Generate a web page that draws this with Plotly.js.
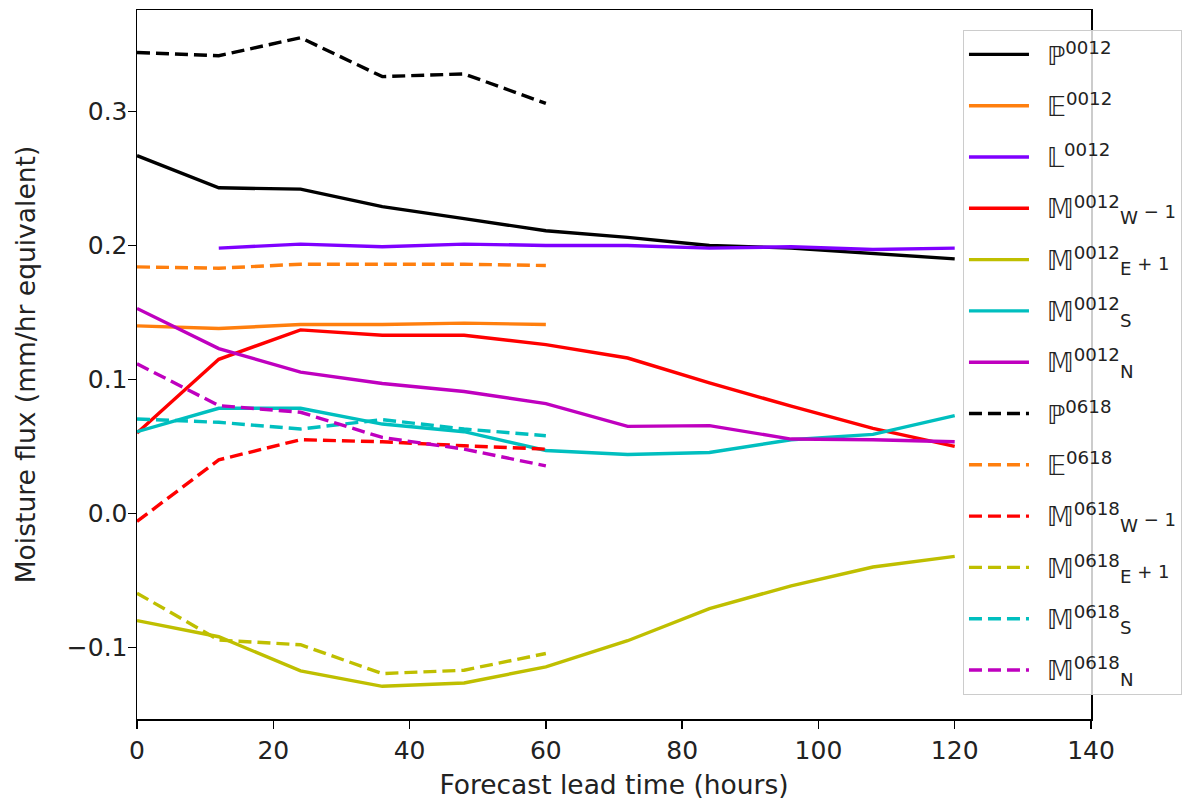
<!DOCTYPE html>
<html>
<head>
<meta charset="utf-8">
<script src="https://cdn.plot.ly/plotly-3.0.1.min.js"></script>
<style>html,body{margin:0;padding:0;background:#fff;}</style>
</head>
<body>
<div id="chart" style="width:1201px;height:800px;"></div>
<script>
// Forecast lead times (hours)
const lead0012 = [0, 12, 24, 36, 48, 60, 72, 84, 96, 108, 120];
const lead0618 = [0, 12, 24, 36, 48, 60];
const leadE0012 = [0, 12, 24, 36, 48, 60];
const leadL0012 = [12, 24, 36, 48, 60, 72, 84, 96, 108, 120];

// 0012 run
const P0012  = [0.267, 0.243, 0.242, 0.229, 0.220, 0.211, 0.206, 0.200, 0.198, 0.194, 0.190];
const E0012  = [0.140, 0.138, 0.141, 0.141, 0.142, 0.141];
const L0012  = [0.198, 0.201, 0.199, 0.201, 0.200, 0.200, 0.198, 0.199, 0.197, 0.198];
const MW0012 = [0.060, 0.115, 0.137, 0.133, 0.133, 0.126, 0.116, 0.0975, 0.080, 0.0635, 0.050];
const ME0012 = [-0.080, -0.092, -0.1175, -0.129, -0.1265, -0.1145, -0.095, -0.071, -0.054, -0.040, -0.032];
const MS0012 = [0.061, 0.0785, 0.0785, 0.0667, 0.061, 0.047, 0.044, 0.0455, 0.055, 0.059, 0.073];
const MN0012 = [0.153, 0.123, 0.1055, 0.097, 0.091, 0.082, 0.065, 0.0655, 0.0555, 0.055, 0.0535];

// 0618 run
const P0618  = [0.344, 0.3416, 0.355, 0.326, 0.328, 0.306];
const E0618  = [0.184, 0.183, 0.186, 0.186, 0.186, 0.185];
const MW0618 = [-0.006, 0.040, 0.055, 0.0535, 0.0505, 0.048];
const ME0618 = [-0.0595, -0.0945, -0.098, -0.1195, -0.117, -0.1045];
const MS0618 = [0.0705, 0.068, 0.063, 0.070, 0.063, 0.058];
const MN0618 = [0.1117, 0.0805, 0.0755, 0.0567, 0.048, 0.0355];

const small = s => "<span style='font-size:18px'>" + s + "</span>";
const pre = "\u2002";
const names = {
  P0012: pre + "ℙ<sup>0012</sup>",
  E0012: pre + "𝔼<sup>0012</sup>",
  L0012: pre + "𝕃<sup>0012</sup>",
  MW0012: pre + "𝕄<sup>0012</sup><sub>W</sub>" + small(" − 1"),
  ME0012: pre + "𝕄<sup>0012</sup><sub>E</sub>" + small(" + 1"),
  MS0012: pre + "𝕄<sup>0012</sup><sub>S</sub>",
  MN0012: pre + "𝕄<sup>0012</sup><sub>N</sub>",
  P0618: pre + "ℙ<sup>0618</sup>",
  E0618: pre + "𝔼<sup>0618</sup>",
  MW0618: pre + "𝕄<sup>0618</sup><sub>W</sub>" + small(" − 1"),
  ME0618: pre + "𝕄<sup>0618</sup><sub>E</sub>" + small(" + 1"),
  MS0618: pre + "𝕄<sup>0618</sup><sub>S</sub>",
  MN0618: pre + "𝕄<sup>0618</sup><sub>N</sub>"
};

const C = {k:"#000000", o:"#ff7f0e", v:"#7f00ff", r:"#ff0000", y:"#bfbf00", c:"#00bfbf", m:"#bf00bf"};
const LW = 3.4;
const DASH = "13px,6px";

function tr(x, y, name, color, dashed, g) {
  return {
    x: x, y: y, name: name, type: "scatter", mode: "lines",
    legendgroup: "g" + g,
    line: {color: color, width: LW, dash: dashed ? DASH : "solid"},
    hoverinfo: "x+y+name"
  };
}

const data = [
  tr(lead0012, P0012, names.P0012, C.k, false, 1),
  tr(leadE0012, E0012, names.E0012, C.o, false, 2),
  tr(leadL0012, L0012, names.L0012, C.v, false, 3),
  tr(lead0012, MW0012, names.MW0012, C.r, false, 4),
  tr(lead0012, ME0012, names.ME0012, C.y, false, 5),
  tr(lead0012, MS0012, names.MS0012, C.c, false, 6),
  tr(lead0012, MN0012, names.MN0012, C.m, false, 7),
  tr(lead0618, P0618, names.P0618, C.k, true, 8),
  tr(lead0618, E0618, names.E0618, C.o, true, 9),
  tr(lead0618, MW0618, names.MW0618, C.r, true, 10),
  tr(lead0618, ME0618, names.ME0618, C.y, true, 11),
  tr(lead0618, MS0618, names.MS0618, C.c, true, 12),
  tr(lead0618, MN0618, names.MN0618, C.m, true, 13)
];

const layout = {
  width: 1201, height: 800,
  margin: {l: 137, r: 110, t: 10, b: 81, pad: 0},
  paper_bgcolor: "#fff", plot_bgcolor: "#fff",
  font: {family: "DejaVu Sans", size: 24, color: "#000"},
  showlegend: true,
  xaxis: {
    range: [0, 140], tickvals: [0, 20, 40, 60, 80, 100, 120, 140],
    ticks: "outside", ticklen: 8, tickwidth: 1.5, tickcolor: "#000",
    showline: true, linecolor: "#000", linewidth: 1.5, mirror: true,
    showgrid: false, zeroline: false,
    tickfont: {family: "DejaVu Sans", size: 25, color: "#222"},
    title: {text: "Forecast lead time (hours)", font: {family: "DejaVu Sans", size: 26.5, color: "#222"}, standoff: 12}
  },
  yaxis: {
    range: [-0.1534, 0.3757], tickvals: [-0.1, 0.0, 0.1, 0.2, 0.3], tickformat: ".1f",
    ticks: "outside", ticklen: 8, tickwidth: 1.5, tickcolor: "#000",
    showline: true, linecolor: "#000", linewidth: 1.5, mirror: true,
    showgrid: false, zeroline: false, ticklabelstandoff: -5,
    tickfont: {family: "DejaVu Sans", size: 25, color: "#222"},
    title: {text: "Moisture flux (mm/hr equivalent)", font: {family: "DejaVu Sans", size: 26.5, color: "#222"}, standoff: 23}
  },
  legend: {
    x: 0.8658, y: 0.9718, xanchor: "left", yanchor: "top",
    bgcolor: "rgba(255,255,255,0.8)", bordercolor: "#cccccc", borderwidth: 1,
    font: {family: "DejaVu Sans", size: 26, color: "#222"},
    traceorder: "grouped", tracegroupgap: 14.5, itemwidth: 60
  }
};

Plotly.newPlot("chart", data, layout, {displayModeBar: false, staticPlot: true});
</script>
</body>
</html>
